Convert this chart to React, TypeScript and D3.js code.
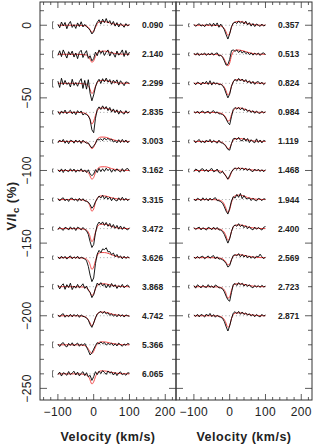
import * as d3 from 'd3';

// velocity grid of the observed profiles (km/s)
const obsV = [-100,-95,-90,-85,-80,-75,-70,-65,-60,-55,-50,-45,-40,-35,-30,-25,-20,-15,-10,-5,0,5,10,15,20,25,30,35,40,45,50,55,60,65,70,75,80,85,90,95,100];
// velocity nodes of the model profiles (km/s)
const modelV = [-100,-50,-30,-20,-12,-5,0,5,12,20,30,40,50,65,80,100];

const phasesLeft = ['0.090','2.140','2.299','2.835','3.003','3.162','3.315','3.472','3.626','3.868','4.742','5.366','6.065'];
const phasesRight = ['0.357','0.513','0.824','0.984','1.119','1.468','1.944','2.400','2.569','2.723','2.871'];
const offsetsLeft = [0,-20,-40,-60,-80,-100,-120,-140,-160,-180,-200,-220,-240];
const offsetsRight = [0,-20,-40,-60,-80,-100,-120,-140,-160,-180,-200];
const errLeft = [2.4,2.4,2.6,1.2,1.2,1.1,1.1,1.2,1.2,1.6,1.1,2.0,2.2];
const errRight = [1.0,1.0,1.0,1.0,1.0,1.0,1.0,1.0,1.0,1.0,1.0];

const obsLeft = [
  [0.6,-1.8,2.2,-0.5,1.9,-2.4,0.8,2.6, -1.5,0.4,-2.2,1.6,-0.9,2.4,-1.2,0.6, -1.0,-2.0,-3.5,-6.0,-4.5,-0.5,2.0,3.8, 0.8,4.2,1.8,4.6,1.5,3.2,0.4,2.6, -0.6,1.8,-1.2,1.3,0.2,-1.4,1.1,-0.4, 0.5],
  [-0.8,2.4,-1.6,3.0,0.2,-2.6,1.8,-0.4, 2.2,-1.9,0.9,-3.0,1.4,2.8,-2.2,0.6, 2.5,-2.8,-1.0,-4.5,-3.0,1.5,-1.0,3.0, 0.5,2.4,-0.8,1.6,3.0,-1.2,1.8,0.4, -2.0,2.2,-0.6,0.8,3.0,-1.5,2.6,-0.8, 1.5],
  [1.5,-2.8,3.5,-1.0,2.0,-0.8,0.4,-2.5, 2.8,-1.4,0.6,-2.0,1.2,3.2,-3.5,2.0, -4.0,2.5,-7.0,-12.0,-8.0,-2.5,1.0,2.8, 0.0,3.2,1.0,3.6,0.8,2.6,-0.6,2.2, 0.4,2.4,-1.2,1.8,0.2,-1.6,1.0,0.6, -0.2],
  [0.8,-1.4,1.0,-0.6,1.6,-1.0,0.4,1.4, -1.0,0.6,-1.6,1.2,-0.4,1.0,-1.8,-0.8, -1.5,-2.5,-5.0,-12.0,-14.0,-4.0,2.0,3.8, 2.0,4.5,2.2,4.0,1.2,3.4,0.2,2.4, -0.2,1.8,-1.2,1.4,-0.4,-1.2,1.2,-0.6, 0.6],
  [-1.0,1.0,-0.4,1.4,-1.2,0.6,-1.6,0.8, 0.4,-1.2,1.0,-0.6,0.8,-1.4,0.9,-0.4, -1.2,-1.0,-3.0,-4.5,-3.0,-1.5,1.5,1.0, 1.8,0.6,2.4,1.0,2.2,0.8,1.6,-0.4, 0.6,-1.0,1.2,-0.8,1.4,-0.6,1.0,-1.0, 0.4],
  [0.6,-1.0,1.1,-1.4,0.8,-0.2,-0.8,1.2, -0.6,1.0,-1.2,0.4,-0.5,1.2,-1.0,0.4, -1.4,0.5,-2.4,-3.5,-2.5,0.6,-1.4,1.5, -0.8,1.2,-0.6,1.6,0.0,1.2,-1.2,0.8, -0.6,1.2,-0.2,-1.0,1.3,-0.8,0.9,1.4, -0.5],
  [0.8,-1.0,0.6,1.2,-0.9,0.4,-1.3,0.8, 1.0,-0.6,0.4,-1.2,0.9,-0.8,0.6,-1.0, -1.2,-1.8,-3.5,-6.0,-4.5,-1.5,0.6,2.4, 1.0,3.0,0.4,2.2,0.2,1.6,-0.8,1.2, -0.4,-1.0,1.2,-0.6,1.6,-0.6,0.9,-0.8, 0.5],
  [-0.8,1.0,-0.2,-1.2,0.9,0.4,-1.0,1.2, -0.5,0.8,-1.3,1.0,0.3,-0.9,0.8,-0.6, -1.5,-4.0,-9.0,-13.0,-11.0,-3.0,2.5,4.5, 3.0,4.6,2.2,4.2,1.6,3.6,0.8,2.8, 0.2,2.2,-0.4,1.8,-0.6,1.2,-0.2,-0.9, 0.6],
  [0.6,-0.9,1.0,-0.5,0.9,-1.0,0.4,1.2, -0.8,0.6,-0.5,1.0,-0.9,0.4,-0.2,-1.0, -2.0,-6.0,-12.0,-16.5,-14.0,-4.0,2.5,5.0, 3.5,6.0,5.5,6.8,4.0,4.2,2.0,3.2, 0.6,2.2,0.0,1.2,-0.8,1.0,-0.6,0.6, -0.2],
  [1.2,-1.5,0.8,2.0,-1.8,1.4,-0.6,2.4, -2.0,0.5,-1.0,1.6,-0.8,0.4,2.0,-1.2, 0.5,-2.5,-4.0,-7.5,-5.5,-1.0,2.5,1.0, 2.8,0.5,2.0,-0.8,1.6,-0.5,2.2,0.0, 1.4,-1.2,0.8,-0.4,1.6,-0.8,0.5,1.2, -0.6],
  [0.6,-0.9,0.8,1.4,-1.0,0.4,-0.7,1.0, -0.8,0.9,-0.4,0.8,-1.1,0.6,-0.4,-0.8, -1.5,-3.0,-6.0,-8.0,-5.0,-1.5,1.2,2.2, 3.0,1.6,3.0,1.2,2.2,0.2,1.4,-0.3, 0.9,-0.7,1.0,-0.5,0.8,-0.9,0.6,0.0, -0.4],
  [0.5,-1.2,0.8,1.5,-0.6,-1.5,1.0,-0.4, 1.4,-0.8,0.2,1.2,-1.0,0.6,-0.5,0.9, -1.5,-4.0,-7.0,-5.5,-3.0,-0.5,1.5,0.5, 2.0,0.8,1.6,-0.2,1.0,0.2,1.2,-0.6, 0.8,-0.8,1.2,0.0,-1.0,0.6,-0.4,1.0, 0.4],
  [-0.5,1.2,-1.5,0.8,0.2,-1.0,1.6,-0.6, 0.6,1.8,-0.8,1.2,-1.4,0.4,1.5,-1.2, 0.8,-2.0,-1.0,-4.5,-2.0,1.5,-0.5,1.8, 0.2,2.2,1.0,-0.4,2.0,0.5,1.4,-0.8, 1.0,-1.2,0.6,1.4,-0.6,0.2,-1.0,0.8, 0.5],
];

const obsRight = [
  [0.6,-0.8,0.4,1.0,-0.6,0.3,-1.0,0.8, 0.0,1.2,-0.8,1.4,-0.5,1.6,-1.4,0.8, -1.0,-3.0,-6.5,-9.5,-6.0,-1.0,1.5,2.2, 1.2,3.0,1.4,2.6,0.8,2.8,0.2,1.8, -0.6,1.2,-0.9,0.9,0.0,-0.8,0.8,-0.6, 0.3],
  [0.8,-0.6,1.0,-0.9,0.4,-0.2,0.9,-0.8, 0.6,-0.5,1.0,-0.6,0.4,1.0,-1.2,-0.6, -2.0,-4.5,-7.5,-7.0,-3.5,2.5,3.0,2.0, 3.0,1.2,2.6,0.8,2.2,0.4,1.4,-0.2, 1.0,-0.6,0.8,-0.3,0.9,-0.8,0.6,1.0, -0.4],
  [0.4,-1.0,0.8,0.2,-1.1,0.9,-0.4,1.4, -0.8,1.8,-1.2,1.0,-0.6,0.4,-1.0,-0.6, -1.5,-3.5,-7.0,-10.0,-7.5,-2.0,1.0,2.8, 1.4,3.4,1.6,3.0,1.0,2.6,0.4,1.8, -0.2,1.4,-0.7,0.9,1.2,-0.5,0.8,-0.9, 0.3],
  [0.6,-0.5,0.9,-0.8,0.4,1.0,-0.6,0.2, 0.8,-0.9,0.5,1.2,-0.5,0.4,-1.0,-1.0, -1.5,-2.5,-4.5,-7.0,-8.5,-3.0,2.0,3.4, 2.2,3.4,1.8,3.2,1.2,2.4,0.6,1.6, 0.0,1.2,-0.6,0.9,-0.3,-0.7,0.8,-0.4, 0.5],
  [0.9,-1.0,0.5,1.3,-0.8,0.4,-1.1,1.0, -0.4,1.4,-0.9,0.7,-0.2,-1.2,0.9,-0.8, -1.2,-2.0,-3.5,-5.5,-6.0,-1.5,1.8,2.2, 1.2,2.8,0.8,0.4,2.4,0.2,2.0,-0.8, 1.2,-0.2,-0.9,1.8,-0.7,1.0,-1.0,0.7, 0.2],
  [-0.8,1.0,0.3,-1.2,0.9,1.2,-0.6,0.8, -1.0,0.6,1.4,-0.9,-0.4,1.0,-1.4,-1.8, -0.5,-2.5,-4.0,-6.0,-3.5,-1.0,0.8,1.8, 0.8,2.0,0.6,1.8,0.4,1.6,0.0,1.3, -0.2,-0.8,1.0,-0.4,0.9,-0.7,0.6,-0.9, 0.6],
  [0.4,-1.0,0.9,0.2,-0.8,1.2,-0.4,0.8, -0.9,1.0,-0.4,0.6,1.3,-0.7,-0.8,-1.5, -2.5,-5.0,-8.0,-10.0,-6.0,-1.0,2.0,1.0, 3.5,1.5,4.2,0.6,2.8,0.8,0.6,1.2, -0.7,0.9,-0.3,-0.9,0.8,0.4,-0.8,0.6, 0.2],
  [0.8,-0.6,0.4,1.0,-0.9,0.6,-0.1,-1.0, 0.9,0.3,-0.8,1.0,-0.6,0.8,-0.9,-1.0, -2.0,-4.0,-7.0,-10.0,-7.0,-2.0,1.5,2.5, 1.6,3.4,1.4,2.6,0.6,2.0,0.0,1.4, -0.2,-0.9,1.0,-0.5,0.8,-0.2,-1.0,0.9, 1.4],
  [0.4,-0.6,0.9,-0.4,0.6,1.0,-0.8,0.2, 1.2,-0.4,0.8,1.4,-0.9,0.6,-1.0,-0.8, -1.5,-2.5,-4.0,-6.5,-5.5,-1.5,1.5,2.0, 1.2,2.8,0.6,2.2,0.4,1.8,-0.2,1.2, -0.4,0.9,-0.6,1.0,0.4,2.4,0.6,-0.8, 0.5],
  [0.8,-1.0,1.3,0.3,-0.8,1.0,-0.1,-0.6, 1.4,-0.4,0.6,-0.9,1.2,0.4,-0.8,-0.8, -1.5,-3.5,-6.5,-9.0,-10.0,-4.0,1.5,2.2, 0.8,2.8,1.2,2.4,0.4,1.8,0.2,1.4, -0.1,-0.8,0.9,-0.3,0.8,-0.5,1.0,-0.2, 0.4],
  [0.6,-0.5,1.0,-0.8,0.9,0.3,-0.9,1.2, -0.2,1.6,-0.6,0.8,-1.0,0.4,-0.6,-1.0, -1.8,-4.0,-7.5,-10.5,-7.0,-2.0,1.8,2.8, 1.4,3.0,1.0,2.6,0.8,2.0,0.4,1.4, -0.2,1.0,-0.7,0.9,-0.2,-0.8,1.0,-0.3, 0.5],
];

const modelLeft = [
  [0,0,-0.2,-0.5,-2.2,-5,-4,-1.5,1.8,2.5,2.5,2,1.2,0.5,0.1,0],
  [0,0,-0.2,-0.6,-2.5,-5.5,-4.5,-1.5,1.5,2,2.2,1.8,1,0.4,0.1,0],
  [0,0,-0.3,-0.8,-3,-7,-5.5,-2,1.2,2,2,1.6,1,0.4,0.1,0],
  [0,0,-0.3,-1,-3.5,-8,-6,-2,2,3,3,2.5,1.5,0.6,0.1,0],
  [0,0,-0.2,-0.6,-2.5,-5,-4,-1,2,3,3,2.4,1.5,0.5,0.1,0],
  [0,0,-0.2,-0.6,-2.8,-6,-4.8,-1.5,1.5,2.5,2.6,2.2,1.3,0.5,0.1,0],
  [0,0,-0.3,-1,-3.5,-8,-6.5,-2,1.5,2.5,2.5,2,1.2,0.5,0.1,0],
  [0,0,-0.3,-1,-4,-9,-7,-2.5,2,3,3,2.5,1.5,0.6,0.1,0],
  [0,0,-0.3,-1,-3.5,-8,-6.5,-2,2.5,3.5,3.5,3,2,0.8,0.2,0],
  [0,0,-0.2,-0.8,-3,-6,-5,-1.5,1.5,2,2,1.6,1,0.4,0.1,0],
  [0,0,-0.3,-1.2,-4,-7,-5,-1.5,1.8,2.5,2.5,2,1.2,0.5,0.1,0],
  [0,0,-0.3,-1.2,-4,-6,-4.5,-1.5,1.2,2,2,1.6,1,0.4,0.1,0],
  [0,0,-0.2,-0.8,-3,-7,-5.5,-2,1,2,2,1.6,1,0.4,0.1,0],
];

const modelRight = [
  [0,0,-0.3,-1,-3.5,-7,-5.5,-1.5,1.8,2.5,2.5,2,1.2,0.5,0.1,0],
  [0,0,-0.4,-1.5,-5,-8,-6,-1,2.2,3,2.8,2.2,1.4,0.5,0.1,0],
  [0,0,-0.3,-1.2,-4,-8,-6.5,-2,1.8,2.5,2.5,2,1.2,0.5,0.1,0],
  [0,0,-0.3,-1,-3,-6,-5.5,-1.5,2,3,3,2.4,1.4,0.5,0.1,0],
  [0,0,-0.2,-0.8,-2.5,-5,-4.5,-1.5,1.4,2,2,1.6,1,0.4,0.1,0],
  [0,0,-0.3,-1,-3,-6,-4.5,-1.2,1,1.5,1.5,1.2,0.8,0.3,0.1,0],
  [0,0,-0.4,-1.5,-5,-9,-7,-2,2,3,3,2.4,1.4,0.5,0.1,0],
  [0,0,-0.3,-1.2,-4,-8,-6.5,-2,1.8,2.5,2.5,2,1.2,0.5,0.1,0],
  [0,0,-0.2,-0.8,-2.5,-5,-4.5,-1.5,1.4,2,2,1.6,1,0.4,0.1,0],
  [0,0,-0.3,-1,-3.5,-8,-7,-2.5,1.4,2,2,1.6,1,0.4,0.1,0],
  [0,0,-0.3,-1.2,-4,-8,-6.5,-2,1.4,2,2,1.6,1,0.4,0.1,0],
];

const xMajor = [-100,0,100,200];
const xMinor = [-140,-120,-80,-60,-40,-20,20,40,60,80,120,140,160,180,220];
const yMajor = [0,-50,-100,-150,-200,-250];
const yMinor = [10,-10,-20,-30,-40,-60,-70,-80,-90,-110,-120,-130,-140,-160,-170,-180,-190,-210,-220,-230,-240];

const width = 314;
const height = 447;
const plotTop = 2;
const plotBottom = 400;
const font = '"Liberation Sans", Arial, sans-serif';
const ink = '#222';

const y = d3.scaleLinear().domain([16, -258]).range([plotTop, plotBottom]);

const fmt = (v:number) => (v < 0 ? '\u2212' + Math.abs(v) : String(v));

interface PanelProps {
  left:number,
  right:number,
  phases:string[],
  offsets:number[],
  obs:number[][],
  model:number[][],
  err:number[],
  yLabels:boolean
}

function Panel({left,right,phases,offsets,obs,model,err,yLabels}:PanelProps){
  const x = d3.scaleLinear().domain([-150, 230]).range([left, right]);

  return (
    <g>
      {phases.map((p,r)=>{
        const off = offsets[r];
        const obsLine = d3.line<number>()
          .x((_,i)=>x(obsV[i]))
          .y(d=>y(off + d));
        const modelLine = d3.line<number>()
          .x((_,i)=>x(modelV[i]))
          .y(d=>y(off + d))
          .curve(d3.curveMonotoneX);
        const ex = x(-115);
        return (
          <g key={p}>
            <line x1={x(-100)} x2={x(100)} y1={y(off)} y2={y(off)}
              stroke="#444" strokeWidth={0.5} strokeDasharray="1 2.5"/>
            <path d={modelLine(model[r]) ?? ''} fill="none" stroke="#f24848" strokeWidth={1}/>
            <path d={obsLine(obs[r]) ?? ''} fill="none" stroke="#000" strokeWidth={0.9} strokeLinejoin="round"/>
            <g stroke="#333" strokeWidth={0.7}>
              <line x1={ex} x2={ex} y1={y(off + err[r])} y2={y(off - err[r])}/>
              <line x1={ex} x2={ex + 1.2} y1={y(off + err[r])} y2={y(off + err[r])}/>
              <line x1={ex} x2={ex + 1.2} y1={y(off - err[r])} y2={y(off - err[r])}/>
            </g>
            <text x={x(135)} y={y(off) + 3} fontSize={8.5} fontWeight="bold"
              fontFamily={font} fill={ink}>{p}</text>
          </g>
        );
      })}

      {/* frame */}
      <rect x={left} y={plotTop} width={right-left} height={plotBottom-plotTop}
        fill="none" stroke="#333" strokeWidth={1}/>

      {/* ticks, inward on every side */}
      <g stroke="#333" strokeWidth={0.8}>
        {xMinor.map(v=>(
          <g key={'xm'+v}>
            <line x1={x(v)} x2={x(v)} y1={plotBottom} y2={plotBottom-3}/>
            <line x1={x(v)} x2={x(v)} y1={plotTop} y2={plotTop+3}/>
          </g>
        ))}
        {xMajor.map(v=>(
          <g key={'xM'+v}>
            <line x1={x(v)} x2={x(v)} y1={plotBottom} y2={plotBottom-6}/>
            <line x1={x(v)} x2={x(v)} y1={plotTop} y2={plotTop+6}/>
          </g>
        ))}
        {yMinor.map(v=>(
          <g key={'ym'+v}>
            <line x1={left} x2={left+4} y1={y(v)} y2={y(v)}/>
            <line x1={right} x2={right-4} y1={y(v)} y2={y(v)}/>
          </g>
        ))}
        {yMajor.map(v=>(
          <g key={'yM'+v}>
            <line x1={left} x2={left+7} y1={y(v)} y2={y(v)}/>
            <line x1={right} x2={right-7} y1={y(v)} y2={y(v)}/>
          </g>
        ))}
      </g>

      {xMajor.map(v=>(
        <text key={'xl'+v} x={x(v)} y={plotBottom+16} textAnchor="middle"
          fontSize={12} letterSpacing={0.4} fontFamily={font} fill={ink}>{fmt(v)}</text>
      ))}
      {yLabels && yMajor.map(v=>(
        <text key={'yl'+v} transform={`translate(${left-9},${y(v)}) rotate(-90)`}
          textAnchor="middle" fontSize={12} letterSpacing={0.4} fontFamily={font} fill={ink}>{fmt(v)}</text>
      ))}
      <text x={(left+right)/2} y={plotBottom+41} textAnchor="middle"
        fontSize={12.5} letterSpacing={0.5} fontWeight="bold" fontFamily={font} fill={ink}>Velocity (km/s)</text>
    </g>
  );
}

export default function App(){
  return (
    <svg width={width} height={height}
      style={{position:'absolute', left:0, top:0, background:'#fff'}}>
      <rect x={0} y={0} width={width} height={height} fill="#fff"/>
      <Panel left={40} right={176} phases={phasesLeft} offsets={offsetsLeft}
        obs={obsLeft} model={modelLeft} err={errLeft} yLabels={true}/>
      <Panel left={176} right={312} phases={phasesRight} offsets={offsetsRight}
        obs={obsRight} model={modelRight} err={errRight} yLabels={false}/>
      <text transform={`translate(16,${(plotTop+plotBottom)/2 + 5}) rotate(-90)`}
        textAnchor="middle" fontSize={13} letterSpacing={0.5} fontWeight="bold" fontFamily={font} fill={ink}>
        V/I<tspan fontSize={9.5} dy={3}>c</tspan><tspan dy={-3}> (%)</tspan>
      </text>
    </svg>
  );
}
